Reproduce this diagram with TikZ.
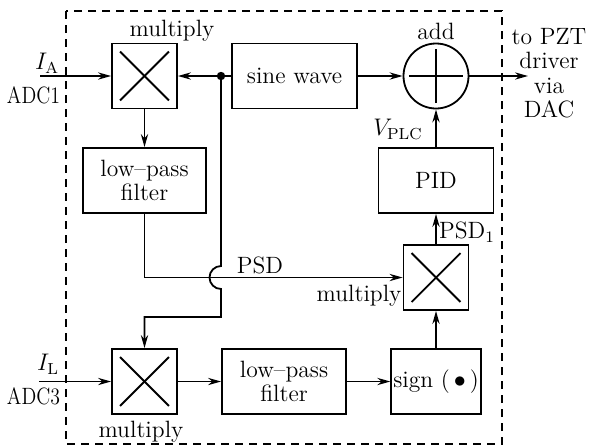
\documentclass[tikz,border=0pt]{standalone}
\usepackage{amsmath,amssymb}
\usepackage{tikz}
\usetikzlibrary{positioning,arrows.meta,calc}

\begin{document}
\begin{tikzpicture}[x=0.5pt,y=-0.5pt,line width=0.9pt,font=\fontsize{11.8}{12.25}\selectfont,>={Stealth[length=6.5pt,width=3.6pt]}]
  \tikzstyle{blk}=[draw,minimum height=32.5pt,align=center,inner sep=1pt]
  \tikzstyle{mul}=[draw,minimum size=32.5pt,inner sep=0pt]
  \tikzstyle{lbl}=[inner sep=0pt,align=center]
  \useasboundingbox (0,0) rectangle (603,446);
  \draw[dash pattern=on 4.2pt off 2.8pt,line width=0.7pt] (66,11) rectangle (502,444);
  % top row
  \node[mul] (m1) at (144.5,76) {};
  \node[blk,minimum width=62.5pt] (sine) at (294.5,76) {sine wave};
  \node[draw,circle,minimum size=32.5pt,inner sep=0pt] (add) at (436,76) {};
  \draw ([xshift=-13.5pt]add.center) -- ([xshift=13.5pt]add.center);
  \draw ([yshift=-13.5pt]add.center) -- ([yshift=13.5pt]add.center);
  % middle
  \node[blk,minimum width=61.5pt] (lpf1) at (144.5,180.5) {low--pass\\filter};
  \node[blk,minimum width=57.5pt] (pid) at (436,180.5) {PID};
  \node[mul] (m2) at (436,277.5) {};
  % bottom row
  \node[mul] (m3) at (144.5,381.5) {};
  \node[blk,minimum width=62pt] (lpf2) at (284,381.5) {low--pass\\filter};
  \node[blk,minimum width=44.5pt] (sgn) at (436,381.5) {sign (\,$\bullet$\,)};
  \foreach \m in {m1,m2,m3} {
    \draw ([shift={(4.5pt,4.5pt)}]\m.south west) -- ([shift={(-4.5pt,-4.5pt)}]\m.north east);
    \draw ([shift={(4.5pt,-4.5pt)}]\m.north west) -- ([shift={(-4.5pt,4.5pt)}]\m.south east);
  }
  \coordinate (ina) at (40,76);
  \coordinate (inl) at (39,381.5);
  \coordinate (out) at (528,76);
  \coordinate (tap) at (221,76);
  \coordinate (bend) at (221,317);
  \fill (tap) circle[radius=2.1pt];
  % connectors
  \draw[->] (ina) -- (m1);
  \draw[->] (sine) -- (m1);
  \draw[->] (sine) -- (add);
  \draw[->] (add) -- (out);
  \draw[->] (m1) -- (lpf1);
  \draw[->] (pid) -- (add);
  \draw[->] (m2) -- (pid);
  \draw[->] (sgn) -- (m2);
  \draw[->] (lpf1.south) |- (m2.west);
  \draw[->] (tap) -- ($(tap |- m2.west)+(0,-11.5)$) arc[start angle=90,end angle=270,radius=5.75pt] -- (bend) -| (m3.north);
  \draw[->] (inl) -- (m3);
  \draw[->] (m3) -- (lpf2);
  \draw[->] (lpf2) -- (sgn);
  % labels
  \node[lbl] (lmul1) at (172,31) {multiply};
  \node[lbl] (ladd) at (436,31) {add};
  \node[lbl] (lout) at (549,73) {to PZT\\driver\\via\\DAC};
  \node[lbl,anchor=east] (lia) at (60,63) {$I_{\mathrm{A}}$};
  \node[lbl,anchor=east] (ladc1) at (61,95) {\scalebox{0.84}[1]{ADC1}};
  \node[lbl,anchor=east] (lil) at (60,364) {$I_{\mathrm{L}}$};
  \node[lbl,anchor=east] (ladc3) at (61,396) {\scalebox{0.84}[1]{ADC3}};
  \node[lbl] (lvplc) at (398,129) {$V_{\mathrm{PLC}}$};
  \node[lbl] (lpsd1) at (467,232) {PSD$_1$};
  \node[lbl] (lpsd) at (260,265) {PSD};
  \node[lbl] (lmul2) at (359,296) {multiply};
  \node[lbl] (lmul3) at (141,432) {multiply};
\end{tikzpicture}
\end{document}
